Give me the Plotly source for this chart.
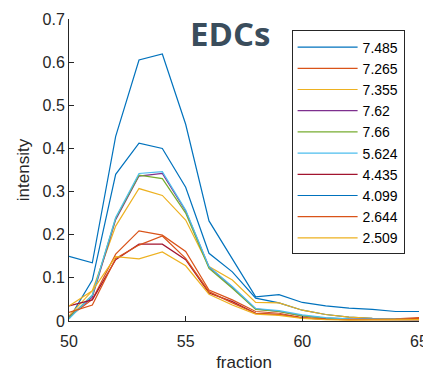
import plotly.graph_objects as go

fraction = list(range(50, 66))

names = ["7.485", "7.265", "7.355", "7.62", "7.66", "5.624", "4.435", "4.099", "2.644", "2.509"]
colors = ["#0072BD", "#D95319", "#EDB120", "#7E2F8E", "#77AC30", "#4DBEEE", "#A2142F",
          "#0072BD", "#D95319", "#EDB120"]

s_7485 = [0.005, 0.095, 0.340, 0.412, 0.400, 0.310, 0.157, 0.114, 0.053, 0.042, 0.025, 0.015, 0.009, 0.006, 0.005, 0.005]
s_7265 = [0.010, 0.050, 0.155, 0.209, 0.199, 0.161, 0.072, 0.049, 0.022, 0.018, 0.008, 0.005, 0.004, 0.004, 0.005, 0.008]
s_7355 = [0.012, 0.070, 0.220, 0.307, 0.291, 0.234, 0.126, 0.095, 0.043, 0.042, 0.025, 0.015, 0.009, 0.006, 0.005, 0.005]
s_762  = [0.010, 0.055, 0.235, 0.336, 0.342, 0.255, 0.125, 0.078, 0.028, 0.022, 0.012, 0.007, 0.005, 0.004, 0.003, 0.003]
s_766  = [0.008, 0.060, 0.238, 0.338, 0.330, 0.250, 0.122, 0.076, 0.027, 0.022, 0.012, 0.007, 0.004, 0.003, 0.003, 0.003]
s_5624 = [0.005, 0.060, 0.240, 0.342, 0.346, 0.257, 0.126, 0.080, 0.029, 0.024, 0.014, 0.008, 0.005, 0.004, 0.004, 0.004]
s_4435 = [0.035, 0.049, 0.142, 0.178, 0.178, 0.142, 0.065, 0.045, 0.018, 0.015, 0.007, 0.004, 0.003, 0.003, 0.003, 0.003]
s_4099 = [0.150, 0.135, 0.428, 0.605, 0.619, 0.456, 0.232, 0.144, 0.056, 0.061, 0.043, 0.035, 0.030, 0.027, 0.022, 0.022]
s_2644 = [0.020, 0.037, 0.145, 0.176, 0.197, 0.145, 0.068, 0.042, 0.018, 0.015, 0.007, 0.004, 0.003, 0.003, 0.004, 0.006]
s_2509 = [0.035, 0.070, 0.149, 0.144, 0.160, 0.128, 0.062, 0.037, 0.016, 0.013, 0.006, 0.003, 0.002, 0.002, 0.002, 0.003]

series = [s_7485, s_7265, s_7355, s_762, s_766, s_5624, s_4435, s_4099, s_2644, s_2509]

x_ticks = [50, 55, 60, 65]
y_ticks = [0, 0.1, 0.2, 0.3, 0.4, 0.5, 0.6, 0.7]

fig = go.Figure()
for name, col, ys in zip(names, colors, series):
    fig.add_trace(go.Scatter(x=fraction, y=ys, mode="lines", name=name,
                             line=dict(color=col, width=1.2)))

axis_common = dict(showline=True, linecolor="#262626", linewidth=1, ticks="inside",
                   ticklen=5, tickcolor="#262626", showgrid=False, zeroline=False,
                   mirror=False, automargin=False, ticklabeloverflow="allow",
                   tickfont=dict(family="Liberation Sans, Arial", size=16, color="#262626"))

fig.update_layout(
    width=423, height=374,
    margin=dict(l=69, r=3.5, t=19, b=53),
    paper_bgcolor="white", plot_bgcolor="white",
    font=dict(family="Liberation Sans, Arial", size=16, color="#262626"),
    xaxis=dict(range=[50, 65], tickvals=x_ticks, ticktext=[str(v) for v in x_ticks],
               title=dict(text="fraction", standoff=6, font=dict(size=17)), ticklabelstandoff=6, **axis_common),
    yaxis=dict(range=[0, 0.7], tickvals=y_ticks, ticktext=[("0" if v == 0 else f"{v:.1f}") for v in y_ticks],
               title=dict(text="intensity", standoff=8, font=dict(size=17)), **axis_common),
    legend=dict(x=0.636, y=0.962, xanchor="left", yanchor="top",
                bordercolor="#262626", borderwidth=1, bgcolor="white",
                font=dict(family="Liberation Sans, Arial", size=14, color="#000000"),
                itemwidth=60, tracegroupgap=0),
    showlegend=True,
    annotations=[dict(text="<b>EDCs</b>", x=0.459, y=0.952, xref="paper", yref="paper",
                      xanchor="center", yanchor="middle", showarrow=False,
                      font=dict(family="Open Sans", size=33, color="#3a4d5c"))],
)

fig.write_html("out.html", config={"displayModeBar": False},
               post_script="document.body.style.margin='0';document.body.style.padding='0';")
